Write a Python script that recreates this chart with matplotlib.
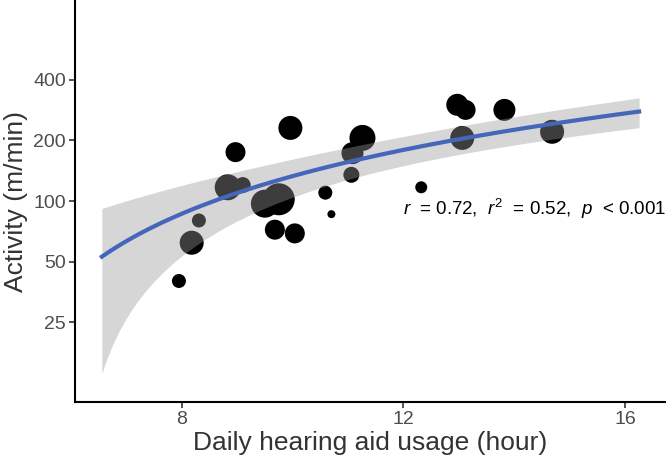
import numpy as np
import matplotlib
matplotlib.use("Agg")
import matplotlib.pyplot as plt
from matplotlib.ticker import FixedLocator, NullLocator

plt.rcParams['font.family'] = ['Liberation Sans', 'DejaVu Sans']
plt.rcParams['mathtext.fontset'] = 'custom'
plt.rcParams['mathtext.rm'] = 'Liberation Sans'
plt.rcParams['mathtext.it'] = 'Liberation Sans:italic'

# ---- data ----
usage_hours = [7.95, 8.18, 8.31, 8.83, 9.10, 8.97, 9.96, 9.50, 9.75, 9.68, 10.04,
               10.59, 10.70, 11.06, 11.08, 11.26, 12.32, 12.97, 13.12, 13.06, 13.82, 14.68]
activity = [40, 62, 80, 117, 120, 175, 231, 97, 102, 72, 69,
            110, 86, 135, 173, 206, 117, 301, 284, 206, 284, 221]
point_size = [7, 12, 7, 13, 8, 10, 12, 14, 16, 10, 10,
              7, 4, 8, 11, 13, 6, 11, 10, 12, 11, 12]

# fitted linear model (raw scale) and its 95% band
fit_intercept = -100.0
fit_slope = 23.3
ci_center_x = 10.6
ci_min_halfwidth = 28.3
ci_growth = 44.1

x_range = [6.56, 16.25]
y_ticks = [25, 50, 100, 200, 400]
x_ticks = [8, 12, 16]
annotation = r"$\it{r}$  = 0.72,  $\it{r}^{2}$  = 0.52,  $\it{p}$  < 0.001"

x = np.array(usage_hours)
y = np.array(activity, dtype=float)

xs = np.linspace(x_range[0], x_range[1], 200)
fit = fit_intercept + fit_slope * xs
half = np.sqrt(ci_min_halfwidth ** 2 + ci_growth * (xs - ci_center_x) ** 2)
lower = np.clip(fit - half, 1e-3, None)
upper = fit + half

fig = plt.figure(figsize=(6.66, 4.62), dpi=100)
ax = fig.add_axes([75 / 666, 60 / 462, 591 / 666, 402 / 462])

sizes = [(1.44 * r) ** 2 for r in point_size]
ax.scatter(x, y, s=sizes, c='black', linewidths=0, zorder=2)
ax.fill_between(xs, lower, upper, color='#999999', alpha=0.4, linewidth=0, zorder=3)
ax.plot(xs, fit, color='#4466BB', lw=3, zorder=4)

ax.set_yscale('log')
ax.set_ylim(10, 1000)
span = x_range[1] - x_range[0]
ax.set_xlim(x_range[0] - 0.05 * span, x_range[1] + 0.05 * span)
ax.yaxis.set_major_locator(FixedLocator(y_ticks))
ax.yaxis.set_minor_locator(NullLocator())
ax.set_yticklabels([str(t) for t in y_ticks])
ax.set_xticks(x_ticks)
ax.set_xticklabels([str(t) for t in x_ticks])

for side in ['top', 'right']:
    ax.spines[side].set_visible(False)
for side in ['left', 'bottom']:
    ax.spines[side].set_linewidth(1.5)
    ax.spines[side].set_color('black')
ax.tick_params(axis='both', length=4.5, width=1.2, color='#333333',
               labelsize=14, labelcolor='#4D4D4D', pad=2)

ax.set_xlabel('Daily hearing aid usage (hour)', fontsize=19, color='#333333', labelpad=2)
ax.set_ylabel('Activity (m/min)', fontsize=19, color='#333333', labelpad=4)

ax.text(12.0, 91, annotation, fontsize=13.5, color='black', ha='left', va='center')

fig.savefig('out.png', dpi=100)
